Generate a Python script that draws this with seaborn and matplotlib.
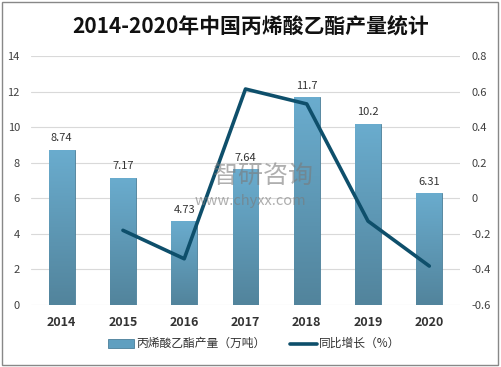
import numpy as np
import pandas as pd
import matplotlib
matplotlib.use("Agg")
import matplotlib.pyplot as plt
from matplotlib.colors import LinearSegmentedColormap
from matplotlib.patches import Rectangle
import seaborn as sns

# --- data ---
years = ["2014", "2015", "2016", "2017", "2018", "2019", "2020"]
output = [8.74, 7.17, 4.73, 7.64, 11.7, 10.2, 6.31]
growth_years = ["2015", "2016", "2017", "2018", "2019", "2020"]
growth = [-0.18, -0.34, 0.615, 0.531, -0.128, -0.381]

sns.set_theme(style="white")
plt.rcParams['font.family'] = ['Noto Sans CJK SC', 'DejaVu Sans']

fig = plt.figure(figsize=(5.01, 3.67), dpi=100)
ax = fig.add_axes([0.062, 0.169, 0.856, 0.678])

df = pd.DataFrame({"year": years, "output": output})
sns.barplot(data=df, x="year", y="output", ax=ax, width=0.42,
            color="#5f9fc0", edgecolor="#4a7f99", linewidth=0.6, zorder=2)

# gradient fill on the bars
cmap = LinearSegmentedColormap.from_list("bar", ["#52849c", "#6aacce"])
grad = np.linspace(0, 1, 100).reshape(-1, 1)
for p in ax.patches:
    x0, y0 = p.get_x(), p.get_y()
    w, h = p.get_width(), p.get_height()
    im = ax.imshow(grad, cmap=cmap, aspect="auto", origin="lower",
                   extent=[x0, x0 + w, y0, y0 + h], zorder=2)
    im.set_clip_path(p)
    ax.text(x0 + w / 2, h + 0.35, f"{h:g}", ha="center", va="bottom",
            fontsize=8, color="#333333", zorder=5)

ax.set_xlim(-0.5, 6.5)
ax.set_ylim(0, 14)
ax.set_yticks(range(0, 15, 2))
ax.set_xlabel("")
ax.set_ylabel("")
ax.grid(axis="y", color="#d9d9d9", linewidth=0.8, zorder=0)
ax.set_axisbelow(True)
for s in ax.spines.values():
    s.set_visible(False)
ax.tick_params(axis="y", labelsize=8, colors="#404040", pad=8, length=0)
ax.tick_params(axis="x", labelsize=9, pad=8, length=0)
for t in ax.get_xticklabels():
    t.set_fontweight("bold")
    t.set_color("#333333")

ax2 = ax.twinx()
gdf = pd.DataFrame({"x": [years.index(y) for y in growth_years], "growth": growth})
sns.lineplot(data=gdf, x="x", y="growth", ax=ax2, color="#0e4f6b", linewidth=2.6, zorder=4)
ax2.set_ylim(-0.6, 0.8)
ax2.set_yticks(np.arange(-0.6, 0.81, 0.2))
ax2.set_yticklabels(["-0.6", "-0.4", "-0.2", "0", "0.2", "0.4", "0.6", "0.8"])
ax2.set_xlim(-0.5, 6.5)
ax2.set_ylabel("")
ax2.set_xlabel("")
for s in ax2.spines.values():
    s.set_visible(False)
ax2.tick_params(axis="y", labelsize=8, colors="#404040", pad=8, length=0)
ax2.grid(False)

# title
fig.text(0.5, 0.925, "2014-2020年中国丙烯酸乙酯产量统计", ha="center", va="center",
         fontsize=15, fontweight="bold", color="#111111")

# watermark
fig.text(0.525, 0.52, "智研咨询", ha="center", va="center", fontsize=18,
         color="#7a7a7a", alpha=0.6)
fig.text(0.5, 0.452, "www.chyxx.com", ha="center", va="center", fontsize=10.5,
         color="#7a7a7a", alpha=0.6)

# legend
fig.patches.append(Rectangle((0.215, 0.052), 0.052, 0.024, transform=fig.transFigure,
                             facecolor="#5f9fc0", edgecolor="#4a7f99", linewidth=0.6))
fig.text(0.272, 0.064, "丙烯酸乙酯产量（万吨）", ha="left", va="center", fontsize=8.5, color="#333333")
fig.lines.append(plt.Line2D([0.578, 0.632], [0.064, 0.064], transform=fig.transFigure,
                            color="#0e4f6b", linewidth=2.6))
fig.text(0.637, 0.064, "同比增长（%）", ha="left", va="center", fontsize=8.5, color="#333333")

# outer border
fig.patches.append(Rectangle((0.004, 0.006), 0.99, 0.988, transform=fig.transFigure,
                             fill=False, edgecolor="#888888", linewidth=1))

fig.savefig("out.png", dpi=100)
